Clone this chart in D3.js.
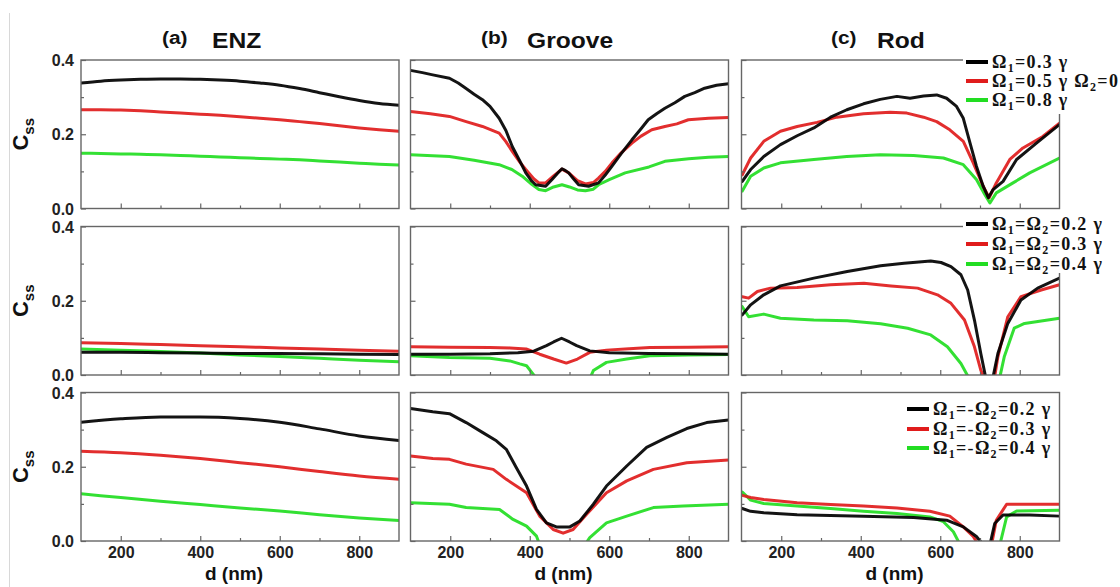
<!DOCTYPE html>
<html>
<head>
<meta charset="utf-8">
<script src="https://cdn.jsdelivr.net/npm/d3@7"></script>
<style>
  html, body { margin: 0; padding: 0; background: #fff; }
  svg { display: block; }
</style>
</head>
<body>
<svg id="chart" width="1120" height="587"></svg>
<script>
// ---------------- DATA ----------------
const columnTitles = ["ENZ", "Groove", "Rod"];
const columnLetters = ["(a)", "(b)", "(c)"];
const xTicksMajor = [200, 400, 600, 800];
const xTicksMinor = [300, 500, 700];
const yTicksMajor = [0.0, 0.2, 0.4];
const yTicksMinor = [0.1, 0.3];
const seriesColors = ["#000000", "#e01c1c", "#22dd22"];

// Legends (row 1, row 2, row 3)
const legendRow1 = ["0.3", "0.5", "0.8"];
const legendRow2 = ["0.2", "0.3", "0.4"];
const legendRow3 = ["0.2", "0.3", "0.4"];

// ---- Row 1: Omega2 = 0 ----
const enzTopD     = [100,150,200,250,300,350,400,450,500,550,600,650,700,750,800,850,900];
const enzTopBlack = [0.338,0.343,0.346,0.348,0.349,0.349,0.348,0.346,0.343,0.338,0.332,0.323,0.312,0.301,0.291,0.283,0.278];
const enzTopRed   = [0.266,0.266,0.265,0.263,0.260,0.257,0.254,0.251,0.247,0.243,0.239,0.234,0.229,0.223,0.217,0.212,0.208];
const enzTopGreen = [0.149,0.148,0.147,0.146,0.145,0.143,0.141,0.139,0.137,0.135,0.133,0.131,0.128,0.125,0.122,0.119,0.117];

const grooveTopBlackD = [100,130,156,198,220,239,260,281,300,323,340,356,375,390,405,415,440,456,470,481,490,498,510,523,548,573,590,607,630,657,680,698,720,740,765,790,815,840,870,900];
const grooveTopBlack  = [0.372,0.366,0.360,0.351,0.338,0.324,0.308,0.293,0.275,0.243,0.210,0.167,0.128,0.096,0.074,0.064,0.060,0.078,0.095,0.107,0.102,0.096,0.080,0.064,0.060,0.069,0.090,0.114,0.148,0.185,0.215,0.239,0.256,0.270,0.285,0.302,0.312,0.324,0.332,0.336];
const grooveTopRedD = [100,150,198,240,281,323,340,356,375,390,410,423,440,460,481,498,520,540,560,573,590,607,630,657,680,707,740,770,799,850,900];
const grooveTopRed  = [0.261,0.255,0.248,0.234,0.221,0.203,0.180,0.154,0.125,0.105,0.080,0.069,0.069,0.088,0.106,0.096,0.075,0.066,0.070,0.082,0.100,0.123,0.150,0.176,0.195,0.212,0.221,0.228,0.239,0.243,0.245];
const grooveTopGreenD = [100,198,260,323,355,381,405,423,440,460,481,500,520,540,560,573,600,640,700,740,800,850,900];
const grooveTopGreen  = [0.145,0.140,0.130,0.118,0.105,0.087,0.065,0.051,0.048,0.058,0.064,0.058,0.050,0.048,0.052,0.064,0.078,0.096,0.112,0.127,0.134,0.138,0.140];

const rodTopBlackD = [102,123,156,198,240,282,324,365,407,449,491,524,558,591,616,641,658,675,691,708,721,733,758,792,842,900];
const rodTopBlack  = [0.073,0.105,0.140,0.172,0.196,0.217,0.246,0.266,0.282,0.294,0.302,0.297,0.303,0.306,0.297,0.275,0.243,0.176,0.114,0.060,0.029,0.051,0.073,0.132,0.176,0.226];
const rodTopRedD = [102,123,156,198,240,290,340,407,474,516,558,591,624,658,683,708,723,741,775,808,858,900];
const rodTopRed  = [0.091,0.136,0.181,0.208,0.221,0.232,0.246,0.255,0.259,0.257,0.246,0.234,0.212,0.181,0.123,0.060,0.029,0.069,0.132,0.163,0.194,0.230];
const rodTopGreenD = [102,123,156,198,282,365,449,533,608,658,691,712,725,741,783,825,900];
const rodTopGreen  = [0.047,0.087,0.109,0.123,0.132,0.140,0.145,0.143,0.136,0.118,0.078,0.038,0.015,0.042,0.069,0.096,0.136];

// ---- Row 2: Omega1 = Omega2 ----
const enzMidD     = [100,200,300,400,500,600,700,800,900];
const enzMidBlack = [0.061,0.061,0.060,0.059,0.058,0.058,0.057,0.056,0.055];
const enzMidRed   = [0.087,0.085,0.082,0.079,0.076,0.073,0.070,0.067,0.064];
const enzMidGreen = [0.070,0.067,0.063,0.059,0.054,0.050,0.045,0.040,0.036];

const grooveMidBlackD = [100,200,300,370,410,442,460,480,500,518,551,600,700,800,900];
const grooveMidBlack  = [0.056,0.056,0.057,0.060,0.064,0.079,0.089,0.099,0.089,0.079,0.065,0.060,0.058,0.057,0.056];
const grooveMidRedD = [100,200,300,350,391,425,460,492,520,551,593,650,702,800,900];
const grooveMidRed  = [0.076,0.075,0.074,0.073,0.070,0.056,0.043,0.032,0.043,0.061,0.067,0.071,0.074,0.075,0.076];
const grooveMidGreenD = [100,198,300,350,375,392,408,417,551,560,593,644,702,800,900];
const grooveMidGreen  = [0.052,0.047,0.045,0.038,0.030,0.025,0.003,-0.010,-0.010,0.012,0.034,0.043,0.052,0.054,0.055];

const rodMidBlackD = [102,123,156,198,282,366,450,509,576,602,627,652,669,686,702,715,732,745,770,803,845,900];
const rodMidBlack  = [0.162,0.189,0.216,0.240,0.261,0.279,0.294,0.301,0.307,0.303,0.292,0.270,0.229,0.148,0.058,-0.010,-0.010,0.058,0.139,0.202,0.234,0.261];
const rodMidRedD = [102,118,140,173,240,324,408,476,543,593,627,661,686,702,711,736,745,770,803,854,900];
const rodMidRed  = [0.211,0.207,0.225,0.234,0.236,0.243,0.247,0.240,0.234,0.216,0.193,0.148,0.076,0.013,-0.010,-0.010,0.049,0.157,0.211,0.229,0.243];
const rodMidGreenD = [102,118,156,198,282,366,450,518,576,618,652,673,749,761,786,812,900];
const rodMidGreen  = [0.184,0.157,0.164,0.153,0.148,0.146,0.138,0.126,0.108,0.076,0.031,-0.010,-0.010,0.049,0.126,0.139,0.153];

// ---- Row 3: Omega1 = -Omega2 ----
const enzBotD     = [100,200,300,400,500,600,700,800,900];
const enzBotBlack = [0.320,0.329,0.334,0.334,0.330,0.320,0.302,0.283,0.271];
const enzBotRed   = [0.242,0.238,0.231,0.222,0.211,0.200,0.187,0.175,0.166];
const enzBotGreen = [0.127,0.117,0.107,0.098,0.089,0.081,0.071,0.062,0.055];

const grooveBotBlackD = [100,156,198,240,282,316,341,366,392,417,442,467,501,526,560,593,644,694,745,795,845,900];
const grooveBotBlack  = [0.357,0.348,0.343,0.319,0.292,0.270,0.247,0.198,0.148,0.085,0.049,0.038,0.038,0.054,0.099,0.148,0.202,0.252,0.279,0.303,0.319,0.326];
const grooveBotRedD = [100,156,198,240,308,341,392,425,459,484,509,543,593,644,711,795,900];
const grooveBotRed  = [0.229,0.222,0.220,0.207,0.193,0.166,0.130,0.067,0.031,0.021,0.031,0.072,0.130,0.162,0.193,0.211,0.218];
const grooveBotGreenD = [100,198,240,324,358,392,417,425,539,551,593,644,711,786,900];
const grooveBotGreen  = [0.103,0.099,0.090,0.085,0.058,0.040,0.013,-0.010,-0.010,0.009,0.049,0.067,0.090,0.094,0.099];

const rodBotBlackD = [102,123,156,240,407,533,616,658,691,708,725,737,758,825,900];
const rodBotBlack  = [0.0875,0.080,0.076,0.071,0.067,0.063,0.056,0.038,0.012,-0.010,-0.010,0.047,0.070,0.070,0.067];
const rodBotRedD = [102,123,156,240,324,407,491,574,624,658,683,696,729,741,767,900];
const rodBotRed  = [0.123,0.117,0.112,0.103,0.098,0.094,0.089,0.080,0.067,0.038,0.012,-0.010,-0.010,0.056,0.099,0.099];
const rodBotGreenD = [102,123,156,240,324,407,491,574,608,633,650,750,767,792,900];
const rodBotGreen  = [0.132,0.110,0.101,0.094,0.0875,0.080,0.074,0.065,0.052,0.025,-0.010,-0.010,0.065,0.081,0.083];

// ---------------- ASSEMBLY ----------------
const panels = [
  [ // row 1
    {smooth: true, s: [[enzTopD, enzTopBlack], [enzTopD, enzTopRed], [enzTopD, enzTopGreen]]},
    {smooth: false, s: [[grooveTopBlackD, grooveTopBlack], [grooveTopRedD, grooveTopRed], [grooveTopGreenD, grooveTopGreen]]},
    {smooth: false, s: [[rodTopBlackD, rodTopBlack], [rodTopRedD, rodTopRed], [rodTopGreenD, rodTopGreen]]}
  ],
  [ // row 2
    {smooth: true, s: [[enzMidD, enzMidBlack], [enzMidD, enzMidRed], [enzMidD, enzMidGreen]]},
    {smooth: false, s: [[grooveMidBlackD, grooveMidBlack], [grooveMidRedD, grooveMidRed], [grooveMidGreenD, grooveMidGreen]]},
    {smooth: false, s: [[rodMidBlackD, rodMidBlack], [rodMidRedD, rodMidRed], [rodMidGreenD, rodMidGreen]]}
  ],
  [ // row 3
    {smooth: true, s: [[enzBotD, enzBotBlack], [enzBotD, enzBotRed], [enzBotD, enzBotGreen]]},
    {smooth: false, s: [[grooveBotBlackD, grooveBotBlack], [grooveBotRedD, grooveBotRed], [grooveBotGreenD, grooveBotGreen]]},
    {smooth: false, s: [[rodBotBlackD, rodBotBlack], [rodBotRedD, rodBotRed], [rodBotGreenD, rodBotGreen]]}
  ]
];

// ---------------- LAYOUT ----------------
const colX = [81, 410.5, 741.5];
const colW = 318;
const rowY = [60, 226.5, 392.5];
const rowH = 148.5;
const sans = "'Liberation Sans', Arial, Helvetica, sans-serif";
const serif = "'Liberation Serif', 'Times New Roman', serif";

const svg = d3.select("#chart");
svg.append("rect").attr("width", 1120).attr("height", 587).attr("fill", "#fff");
svg.append("line").attr("x1", 9.5).attr("x2", 9.5).attr("y1", 13).attr("y2", 587)
  .attr("stroke", "#d8d8d8").attr("stroke-width", 1);

const defs = svg.append("defs");

for (let r = 0; r < 3; r++) {
  for (let c = 0; c < 3; c++) {
    const x = d3.scaleLinear().domain([100, 900]).range([colX[c], colX[c] + colW]);
    const y = d3.scaleLinear().domain([0, 0.4]).range([rowY[r] + rowH, rowY[r]]);
    const id = `clip-${r}-${c}`;
    defs.append("clipPath").attr("id", id).append("rect")
      .attr("x", colX[c]).attr("y", rowY[r]).attr("width", colW).attr("height", rowH);

    const g = svg.append("g");
    const p = panels[r][c];
    const line = d3.line()
      .x(d => x(d[0])).y(d => y(d[1]))
      .curve(p.smooth ? d3.curveMonotoneX : d3.curveLinear);
    const lg = g.append("g").attr("clip-path", `url(#${id})`);
    [2, 1, 0].forEach(k => {
      const [ds, vs] = p.s[k];
      const pts = ds.map((d, i) => [d, vs[i]]);
      lg.append("path").datum(pts).attr("d", line)
        .attr("fill", "none").attr("stroke", seriesColors[k])
        .attr("stroke-width", 3).attr("stroke-linejoin", "round").attr("stroke-linecap", "round")
        .attr("opacity", 0.92);
    });

    const xAxisMaj = d3.axisBottom(x).tickValues(xTicksMajor).tickSize(-5).tickFormat(r === 2 ? d3.format("d") : "");
    const xAxisMin = d3.axisBottom(x).tickValues(xTicksMinor).tickSize(-3).tickFormat("");
    const yAxisMaj = d3.axisLeft(y).tickValues(yTicksMajor).tickSize(-5).tickFormat(c === 0 ? d3.format(".1f") : "");
    const yAxisMin = d3.axisLeft(y).tickValues(yTicksMinor).tickSize(-3).tickFormat("");

    const ax = g.append("g").attr("transform", `translate(0,${rowY[r] + rowH})`).call(xAxisMaj);
    g.append("g").attr("transform", `translate(0,${rowY[r] + rowH})`).call(xAxisMin);
    const ay = g.append("g").attr("transform", `translate(${colX[c]},0)`).call(yAxisMaj);
    g.append("g").attr("transform", `translate(${colX[c]},0)`).call(yAxisMin);
    g.selectAll(".domain").remove();
    g.selectAll(".tick line").attr("stroke", "#666").attr("stroke-width", 1.2);
    ax.selectAll("text").attr("font-family", sans).attr("font-weight", "bold").attr("font-size", 16)
      .attr("fill", "#222").attr("y", 0).attr("dy", 0).attr("transform", "translate(0,17)");
    ay.selectAll("text").attr("font-family", sans).attr("font-weight", "bold").attr("font-size", 16)
      .attr("fill", "#222").attr("x", -7).attr("dy", "0.35em");

    g.append("rect").attr("x", colX[c]).attr("y", rowY[r]).attr("width", colW).attr("height", rowH)
      .attr("fill", "none").attr("stroke", "#666").attr("stroke-width", 1.4);
  }
}

// column titles
const letterOffset = [81, 70.5, 89.5];
const titleOffset = [131, 116.5, 135.5];
for (let c = 0; c < 3; c++) {
  const lx = colX[c] + letterOffset[c];
  svg.append("text").attr("x", lx).attr("y", 44)
    .attr("font-family", sans).attr("font-weight", "bold").attr("font-size", 19).attr("fill", "#111")
    .attr("transform", `translate(${lx},0) scale(1.1,1) translate(${-lx},0)`)
    .text(columnLetters[c]);
  const tx = colX[c] + titleOffset[c];
  svg.append("text").attr("x", tx).attr("y", 48)
    .attr("font-family", sans).attr("font-weight", "bold").attr("font-size", 22).attr("fill", "#111")
    .attr("transform", `translate(${tx},0) scale(1.12,1) translate(${-tx},0)`)
    .text(columnTitles[c]);
  svg.append("text").attr("x", colX[c] + colW / 2 - 6).attr("y", 580)
    .attr("text-anchor", "middle")
    .attr("font-family", sans).attr("font-weight", "bold").attr("font-size", 19).attr("fill", "#111")
    .text("d (nm)");
}

// y axis titles
for (let r = 0; r < 3; r++) {
  const cy = rowY[r] + rowH / 2;
  const t = svg.append("text").attr("transform", `translate(28,${cy}) rotate(-90)`)
    .attr("text-anchor", "middle")
    .attr("font-family", sans).attr("font-weight", "bold").attr("fill", "#111");
  t.append("tspan").attr("font-size", 22).text("C");
  t.append("tspan").attr("font-size", 15).attr("dy", 6).text("ss");
}

// legends
function legendEntry(xLine, yc, color, parts) {
  svg.append("line").attr("x1", xLine).attr("x2", xLine + 22).attr("y1", yc).attr("y2", yc)
    .attr("stroke", color).attr("stroke-width", 4);
  const t = svg.append("text").attr("x", xLine + 26).attr("y", yc + 6)
    .attr("font-family", serif).attr("font-weight", "bold").attr("font-size", 18)
    .attr("letter-spacing", 1.3).attr("fill", "#111");
  parts.forEach(pt => {
    const ts = t.append("tspan").text(pt.t);
    if (pt.sub) ts.attr("font-size", 12).attr("dy", 4);
    if (pt.up) ts.attr("dy", -4);
    if (pt.light) ts.attr("font-weight", "normal");
  });
}

svg.append("rect").attr("x", 963).attr("y", 50).attr("width", 157).attr("height", 64).attr("fill", "#fff");
svg.append("rect").attr("x", 963).attr("y", 213).attr("width", 157).attr("height", 60).attr("fill", "#fff");

const l1y = [62, 81, 100];
legendRow1.forEach((v, i) => {
  const parts = [{t: "Ω"}, {t: "1", sub: true}, {t: "=" + v, up: true}, {t: " γ"}];
  if (i === 1) { parts.push({t: " Ω"}); parts.push({t: "2", sub: true}); parts.push({t: "=0", up: true}); }
  legendEntry(966, l1y[i], seriesColors[i], parts);
});
const l2y = [224, 244, 264];
legendRow2.forEach((v, i) => {
  legendEntry(966, l2y[i], seriesColors[i], [
    {t: "Ω"}, {t: "1", sub: true}, {t: "=Ω", up: true}, {t: "2", sub: true}, {t: "=" + v, up: true}, {t: " γ"}
  ]);
});
const l3y = [409, 429, 448];
legendRow3.forEach((v, i) => {
  legendEntry(907, l3y[i], seriesColors[i], [
    {t: "Ω"}, {t: "1", sub: true}, {t: "=", up: true}, {t: "-", light: true}, {t: "Ω"}, {t: "2", sub: true}, {t: "=" + v, up: true}, {t: " γ"}
  ]);
});
</script>
</body>
</html>
